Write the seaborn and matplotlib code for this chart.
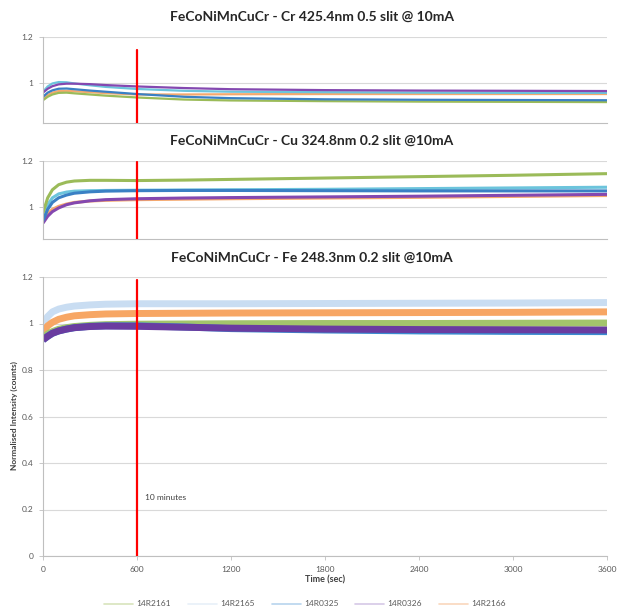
import numpy as np
import pandas as pd
import matplotlib
matplotlib.use("Agg")
import matplotlib.pyplot as plt
from matplotlib.lines import Line2D
import seaborn as sns

# ---------------- data ----------------
time_s = [0, 30, 60, 100, 150, 200, 300, 400, 600, 900, 1200, 1800, 2400, 3000, 3600]
series = ["14R2161", "14R2165", "14R0325", "14R0326", "14R2166"]

# Cr 425.4nm
cr_2161 = [0.925, 0.940, 0.950, 0.957, 0.958, 0.955, 0.950, 0.945, 0.937, 0.928, 0.924, 0.921, 0.919, 0.918, 0.917]
cr_2165 = [0.962, 0.985, 0.998, 1.004, 1.003, 0.998, 0.990, 0.983, 0.974, 0.966, 0.962, 0.960, 0.958, 0.957, 0.957]
cr_0325 = [0.940, 0.958, 0.968, 0.975, 0.976, 0.973, 0.967, 0.962, 0.952, 0.940, 0.934, 0.929, 0.927, 0.926, 0.925]
cr_0326 = [0.958, 0.975, 0.986, 0.994, 0.997, 0.997, 0.995, 0.991, 0.985, 0.978, 0.973, 0.969, 0.967, 0.966, 0.965]
cr_2166 = [0.930, 0.948, 0.958, 0.965, 0.966, 0.964, 0.960, 0.956, 0.950, 0.950, 0.951, 0.952, 0.952, 0.952, 0.952]

# Cu 324.8nm
cu_2161 = [0.975, 1.040, 1.075, 1.097, 1.108, 1.113, 1.116, 1.116, 1.115, 1.117, 1.120, 1.126, 1.132, 1.138, 1.145]
cu_2165 = [0.955, 1.010, 1.040, 1.057, 1.065, 1.069, 1.071, 1.072, 1.073, 1.074, 1.075, 1.077, 1.080, 1.083, 1.086]
cu_0325 = [0.940, 0.990, 1.020, 1.040, 1.052, 1.060, 1.066, 1.069, 1.071, 1.072, 1.072, 1.071, 1.070, 1.070, 1.070]
cu_0326 = [0.930, 0.960, 0.980, 0.996, 1.010, 1.018, 1.027, 1.032, 1.036, 1.039, 1.041, 1.044, 1.047, 1.051, 1.055]
cu_2166 = [0.940, 0.970, 0.990, 1.003, 1.013, 1.020, 1.026, 1.029, 1.032, 1.034, 1.036, 1.039, 1.042, 1.046, 1.050]

# Fe 248.3nm
fe_2161 = [0.940, 0.955, 0.965, 0.975, 0.982, 0.987, 0.992, 0.995, 0.997, 0.998, 0.999, 1.000, 1.000, 1.001, 1.002]
fe_2165 = [1.000, 1.030, 1.050, 1.062, 1.070, 1.075, 1.080, 1.083, 1.085, 1.085, 1.085, 1.086, 1.087, 1.088, 1.090]
fe_0325 = [0.930, 0.945, 0.958, 0.968, 0.976, 0.982, 0.988, 0.990, 0.990, 0.985, 0.978, 0.972, 0.968, 0.966, 0.965]
fe_0326 = [0.930, 0.945, 0.958, 0.968, 0.976, 0.982, 0.987, 0.989, 0.988, 0.984, 0.980, 0.976, 0.974, 0.973, 0.972]
fe_2166 = [0.965, 0.990, 1.005, 1.018, 1.027, 1.033, 1.038, 1.041, 1.043, 1.044, 1.045, 1.046, 1.047, 1.048, 1.050]

marker_x = [600, 600]
marker_y_cr = [0.0, 1.143]
marker_y_cu = [0.0, 1.195]
marker_y_fe = [0.0, 1.185]

titles = ["FeCoNiMnCuCr - Cr 425.4nm 0.5 slit @ 10mA",
          "FeCoNiMnCuCr - Cu 324.8nm 0.2 slit @10mA",
          "FeCoNiMnCuCr - Fe 248.3nm 0.2 slit @10mA"]
x_ticks = [0, 600, 1200, 1800, 2400, 3000, 3600]
y_ticks_fe = [0, 0.2, 0.4, 0.6, 0.8, 1.0, 1.2]
y_ticks_small = [1.0, 1.2]

# ---------------- styling ----------------
sns.set_theme(style="white")
plt.rcParams["font.family"] = ["Lato", "DejaVu Sans"]

pal_top = {"14R2161": "#9BBB59", "14R2165": "#6CC4DC", "14R0325": "#3A80C4",
           "14R0326": "#8448B0", "14R2166": "#F5A96E"}
pal_bot = {"14R2161": "#A3C46C", "14R2165": "#C9DDF2", "14R0325": "#3A8BD0",
           "14R0326": "#6A3CA0", "14R2166": "#F7A664"}
draw_order_top = ["14R2166", "14R2161", "14R0325", "14R2165", "14R0326"]
draw_order_mid = ["14R2166", "14R0326", "14R2165", "14R0325", "14R2161"]
draw_order_bot = ["14R2165", "14R2166", "14R2161", "14R0325", "14R0326"]


def long_df(vals):
    frames = []
    for name, v in zip(series, vals):
        frames.append(pd.DataFrame({"t": time_s, "v": v, "s": name}))
    return pd.concat(frames, ignore_index=True)


W, H = 623, 615
fig = plt.figure(figsize=(W / 100, H / 100), dpi=100)


def ax_at(left, top, right, bottom):
    return fig.add_axes([left / W, 1 - bottom / H, (right - left) / W, (bottom - top) / H])


ax1 = ax_at(43, 37, 607, 123)
ax2 = ax_at(43, 161, 607, 239)
ax3 = ax_at(43, 277, 607, 556)

panels = [
    (ax1, [cr_2161, cr_2165, cr_0325, cr_0326, cr_2166], pal_top, draw_order_top, 1.6, marker_y_cr, (0.826, 1.2), y_ticks_small),
    (ax2, [cu_2161, cu_2165, cu_0325, cu_0326, cu_2166], pal_top, draw_order_mid, 2.2, marker_y_cu, (0.861, 1.2), y_ticks_small),
    (ax3, [fe_2161, fe_2165, fe_0325, fe_0326, fe_2166], pal_bot, draw_order_bot, 5.0, marker_y_fe, (0.0, 1.2), y_ticks_fe),
]

for ax, vals, pal, order, lw, my, ylim, yt in panels:
    df = long_df(vals)
    for name in order:
        sub = df[df["s"] == name]
        sns.lineplot(data=sub, x="t", y="v", color=pal[name], linewidth=lw, ax=ax,
                     legend=False, solid_capstyle="butt", estimator=None, sort=False)
    sns.lineplot(x=marker_x, y=my, color="#FF0000", linewidth=1.6, ax=ax, legend=False,
                 estimator=None, sort=False, zorder=5)
    ax.set_xlim(0, 3600)
    ax.set_ylim(*ylim)
    ax.set_yticks(yt)
    ax.set_yticklabels([("%g" % v) for v in yt], fontsize=6, color="#595959")
    ax.set_xticks(x_ticks)
    ax.grid(axis="y", color="#D9D9D9", linewidth=0.8)
    ax.set_axisbelow(True)
    for s in ["top", "right"]:
        ax.spines[s].set_visible(False)
    ax.spines["left"].set_color("#BFBFBF")
    ax.spines["bottom"].set_color("#BFBFBF")
    ax.spines["left"].set_linewidth(0.8)
    ax.spines["bottom"].set_linewidth(0.8)
    ax.tick_params(axis="y", left=True, length=3, width=0.6, color="#BFBFBF", pad=4)
    ax.set_xlabel("")
    ax.set_ylabel("")

for ax in (ax1, ax2):
    ax.set_xticklabels([])
    ax.tick_params(axis="x", bottom=False)

ax3.set_xticklabels([str(v) for v in x_ticks], fontsize=6, color="#595959")
ax3.tick_params(axis="x", bottom=True, length=3, width=0.6, color="#BFBFBF", pad=4)
ax3.text(650, 0.25, "10 minutes", fontsize=6, color="#404040", va="center", ha="left")

# titles
for y_px, t in zip([17, 141, 258], titles):
    fig.text(0.5, 1 - y_px / H, t, ha="center", va="center", fontsize=10,
             fontweight="bold", color="#262626")

fig.text(325 / W, 1 - 580 / H, "Time (sec)", ha="center", va="center",
         fontsize=6.5, fontweight="bold", color="#404040")
fig.text(14 / W, 1 - 416 / H, "Normalised Intensity (counts)", ha="center", va="center",
         rotation=90, fontsize=6, fontweight="bold", color="#404040")

leg_colors = {"14R2161": "#D8E4BC", "14R2165": "#E8F0F8", "14R0325": "#B8D4EE",
              "14R0326": "#D6C8E6", "14R2166": "#FAD7BC"}
handles = [Line2D([0], [0], color=leg_colors[s], lw=1.2) for s in series]
fig.legend(handles, series, loc="center", bbox_to_anchor=(305 / W, 1 - 604 / H),
           ncol=5, frameon=False, fontsize=6, handlelength=3.5, columnspacing=2.0,
           handletextpad=0.4, labelcolor="#595959")

fig.savefig("out.png", dpi=100)
